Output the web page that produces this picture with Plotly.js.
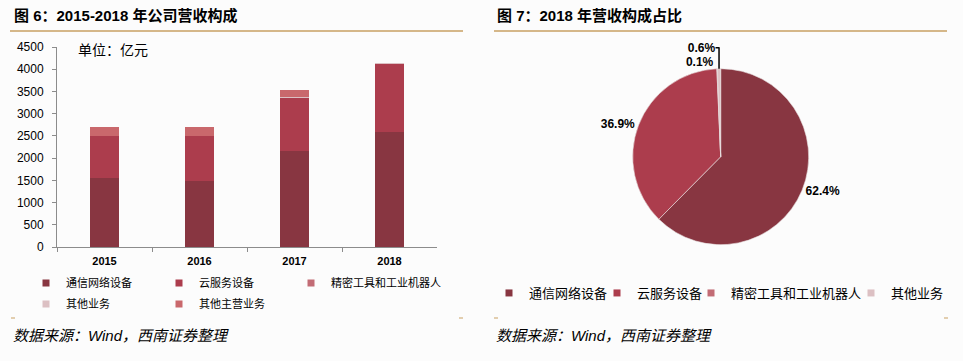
<!DOCTYPE html>
<html>
<head>
<meta charset="utf-8">
<script src="https://cdn.plot.ly/plotly-3.0.1.min.js"></script>
<style>html,body{margin:0;padding:0;background:#fcfcfc;overflow:hidden;}#chart{width:963px;height:361px;}</style>
</head>
<body>
<div id="chart"></div>
<script>
// ---- data ----
const years = ['2015', '2016', '2017', '2018'];
const seriesNames = ['通信网络设备', '云服务设备', '精密工具和工业机器人', '其他业务', '其他主营业务'];
const telecom = [1550, 1475, 2150, 2588];
const cloud = [955, 1030, 1195, 1530];
const precision = [0, 0, 0, 4];
const otherBiz = [0, 0, 20, 25];
const otherMain = [200, 200, 175, 0];
const pieLabels = ['通信网络设备', '云服务设备', '精密工具和工业机器人', '其他业务'];
const pieValues = [2588, 1530, 4, 25];
const yTicks = [0, 500, 1000, 1500, 2000, 2500, 3000, 3500, 4000, 4500];

// ---- styling ----
const W = 963, H = 361;
const px = x => x / W, py = y => 1 - y / H;
const colors = ['#883641', '#ac3d4d', '#c26c75', '#dcc0c3', '#c9686c'];
const CJK = '"Liberation Sans", "Noto Sans CJK SC", sans-serif';
const gold = '#c9a063';

const seriesVals = [telecom, cloud, precision, otherBiz, otherMain];
const traces = [];
seriesVals.forEach((v, i) => {
  traces.push({
    type: 'bar', x: years, y: v, name: seriesNames[i],
    marker: {color: colors[i], line: {width: 0}},
    showlegend: false
  });
});
// legend entries for the bar chart (grid: col1/col2 in legend & legend2, col3 in legend3)
const barLegendOf = ['legend', 'legend', 'legend3', 'legend2', 'legend2'];
seriesNames.forEach((n, i) => {
  traces.push({
    type: 'scatter', mode: 'markers', x: [null], y: [null], name: n,
    marker: {symbol: 'square', size: 7, color: colors[i]},
    legend: barLegendOf[i], showlegend: true
  });
});
// pie
traces.push({
  type: 'pie', labels: pieLabels, values: pieValues,
  sort: false, direction: 'clockwise', rotation: 0,
  marker: {colors: colors.slice(0, 4), line: {color: '#e8e0e0', width: 0.6}},
  textposition: 'outside', texttemplate: '%{percent:.1%}',
  textfont: {family: '"Liberation Sans", Arial, sans-serif', size: 12, color: '#000', weight: 'bold'},
  domain: {x: [px(720.7 - 88), px(720.7 + 88)], y: [py(156.7 + 88), py(156.7 - 88)]},
  showlegend: false, automargin: false
});
// pie legend entries, one legend each so they can sit like the reference
const pieLegendIds = ['legend4', 'legend5', 'legend6', 'legend7'];
pieLabels.forEach((n, i) => {
  traces.push({
    type: 'scatter', mode: 'markers', x: [null], y: [null], name: n,
    marker: {symbol: 'square', size: 7, color: colors[i]},
    legend: pieLegendIds[i], showlegend: true
  });
});

const legendBase = {
  orientation: 'h', xanchor: 'left', yanchor: 'middle', traceorder: 'normal',
  bgcolor: 'rgba(0,0,0,0)', itemwidth: 30,
  font: {family: CJK, size: 11, color: '#000'},
  itemclick: false, itemdoubleclick: false
};
const pieLegendX = [489, 597, 691, 851];

const layout = {
  width: W, height: H,
  margin: {l: 0, r: 0, t: 0, b: 0, autoexpand: false},
  paper_bgcolor: '#fcfcfc', plot_bgcolor: 'rgba(0,0,0,0)',
  barmode: 'stack', bargap: 0.685,
  showlegend: true,
  xaxis: {
    domain: [px(57), px(437)], type: 'category', automargin: false,
    showline: true, linecolor: '#8c8c8c', linewidth: 1,
    ticks: 'outside', tickson: 'boundaries', ticklen: 4, tickcolor: '#8c8c8c',
    tickfont: {family: '"Liberation Sans", Arial, sans-serif', size: 11, color: '#000', weight: 'bold'},
    ticklabelstandoff: 4,
    showgrid: false, zeroline: false, fixedrange: true
  },
  yaxis: {
    domain: [py(247), py(47)], range: [0, 4500], automargin: false,
    tickvals: yTicks, ticktext: yTicks.map(String),
    showline: true, linecolor: '#8c8c8c', linewidth: 1,
    ticks: 'outside', ticklen: 4, tickcolor: '#8c8c8c',
    tickfont: {family: '"Liberation Sans", Arial, sans-serif', size: 12, color: '#000'},
    ticklabelstandoff: 6,
    showgrid: false, zeroline: false, fixedrange: true
  },
  legend: Object.assign({}, legendBase, {x: px(26), y: py(283), entrywidth: 88, entrywidthmode: 'pixels'}),
  legend2: Object.assign({}, legendBase, {x: px(26), y: py(304), entrywidth: 88, entrywidthmode: 'pixels'}),
  legend3: Object.assign({}, legendBase, {x: px(291), y: py(283)}),
  shapes: [
    {type: 'line', xref: 'paper', yref: 'paper', x0: px(10), x1: px(463), y0: py(31), y1: py(31), line: {color: gold, width: 1.5}},
    {type: 'line', xref: 'paper', yref: 'paper', x0: px(494), x1: px(947), y0: py(31), y1: py(31), line: {color: gold, width: 1.5}},
    {type: 'line', xref: 'paper', yref: 'paper', x0: px(11), x1: px(15), y0: py(318), y1: py(318), line: {color: gold, width: 1}},
    {type: 'line', xref: 'paper', yref: 'paper', x0: px(459), x1: px(463), y0: py(318), y1: py(318), line: {color: gold, width: 1}},
    {type: 'line', xref: 'paper', yref: 'paper', x0: px(494), x1: px(498), y0: py(318), y1: py(318), line: {color: gold, width: 1}},
    {type: 'line', xref: 'paper', yref: 'paper', x0: px(944), x1: px(948), y0: py(318), y1: py(318), line: {color: gold, width: 1}}
  ],
  annotations: [
    {text: '<b>图 6：2015-2018 年公司营收构成</b>', xref: 'paper', yref: 'paper', x: px(12), y: py(15), xanchor: 'left', yanchor: 'middle', showarrow: false, font: {family: CJK, size: 15, color: '#000'}},
    {text: '<b>图 7：2018 年营收构成占比</b>', xref: 'paper', yref: 'paper', x: px(495), y: py(15), xanchor: 'left', yanchor: 'middle', showarrow: false, font: {family: CJK, size: 15, color: '#000'}},
    {text: '单位：亿元', xref: 'paper', yref: 'paper', x: px(76), y: py(50), xanchor: 'left', yanchor: 'middle', showarrow: false, font: {family: CJK, size: 14, color: '#000'}},
    {text: '<i>数据来源：Wind，西南证券整理</i>', xref: 'paper', yref: 'paper', x: px(11), y: py(335), xanchor: 'left', yanchor: 'middle', showarrow: false, font: {family: CJK, size: 15, color: '#000'}},
    {text: '<i>数据来源：Wind，西南证券整理</i>', xref: 'paper', yref: 'paper', x: px(494), y: py(335), xanchor: 'left', yanchor: 'middle', showarrow: false, font: {family: CJK, size: 15, color: '#000'}}
  ]
};
pieLegendIds.forEach((id, i) => {
  layout[id] = Object.assign({}, legendBase, {x: px(pieLegendX[i]), y: py(293), font: {family: CJK, size: 13, color: '#000'}});
});

Plotly.newPlot('chart', traces, layout, {staticPlot: true, displayModeBar: false});
</script>
</body>
</html>
